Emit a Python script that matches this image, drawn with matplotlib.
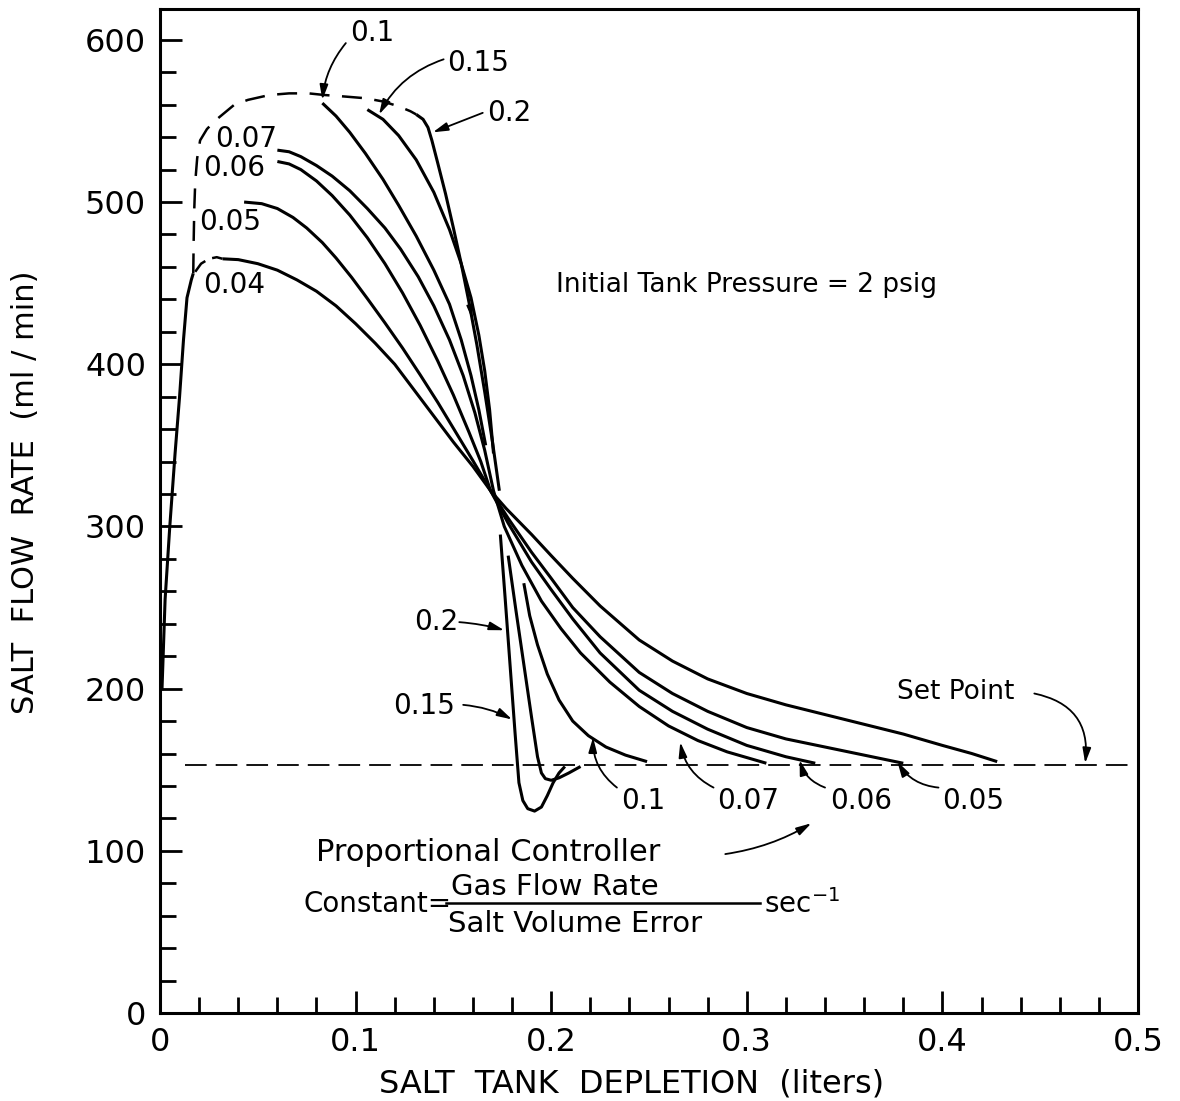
import matplotlib
matplotlib.use("Agg")
import matplotlib.pyplot as plt
from matplotlib.ticker import MultipleLocator

plt.rcParams['font.family'] = ['DejaVu Sans']
plt.rcParams['mathtext.fontset'] = 'dejavusans'

# ---- data (x = liters, y = ml/min) ----
# common start-up rise (solid) and envelope of starting points (dashed)
rise_x = [0.001, 0.0026, 0.005, 0.0077, 0.010, 0.012, 0.0138, 0.016, 0.017]
rise_y = [199, 255, 300, 345, 380, 415, 441, 452, 456]

env_x = [0.017, 0.0172, 0.0175, 0.018, 0.019, 0.0205, 0.024, 0.028, 0.033, 0.038,
         0.045, 0.056, 0.066, 0.076, 0.084, 0.095, 0.105, 0.114, 0.122, 0.128, 0.131]
env_y = [456, 475, 495, 512, 527, 538, 545, 550, 555, 560,
         563, 566, 567, 567, 566, 565, 564, 562, 559, 556, 554]

link04_x = [0.018, 0.021, 0.025, 0.029, 0.032]
link04_y = [457, 462, 465, 466, 465]

# continuous curves (constants 0.04 - 0.07)
c004_x = [0.032, 0.040, 0.050, 0.060, 0.070, 0.080, 0.090, 0.100, 0.110, 0.120, 0.130,
          0.140, 0.150, 0.160, 0.169, 0.177, 0.190, 0.200, 0.211, 0.225, 0.245, 0.262,
          0.280, 0.300, 0.320, 0.340, 0.360, 0.380, 0.400, 0.415, 0.428]
c004_y = [465, 464.5, 462, 458, 452, 445, 436, 425, 413, 400, 384,
          368, 352, 337, 322, 311, 295, 282, 268, 251, 230, 217,
          206, 197, 190, 184, 178, 172, 165, 160, 155]

c005_x = [0.043, 0.052, 0.060, 0.068, 0.075, 0.083, 0.090, 0.098, 0.106, 0.115, 0.124,
          0.133, 0.142, 0.151, 0.160, 0.169, 0.178, 0.190, 0.200, 0.211, 0.225, 0.245,
          0.262, 0.280, 0.300, 0.320, 0.340, 0.360, 0.380]
c005_y = [500, 499, 496, 490.5, 484, 475, 465.5, 453.5, 440.5, 425.5, 410,
          393.5, 376.5, 358.5, 340.5, 322, 305, 284, 268, 250, 232, 210,
          197, 186, 176, 169, 164, 159, 154]

c006_x = [0.060, 0.066, 0.072, 0.080, 0.088, 0.097, 0.106, 0.115, 0.124, 0.133, 0.142,
          0.150, 0.158, 0.164, 0.169, 0.178, 0.190, 0.200, 0.211, 0.225, 0.245, 0.262,
          0.280, 0.300, 0.320, 0.335]
c006_y = [525, 523.5, 520, 513, 504, 492, 478, 462, 444, 424, 402,
          381, 358, 340, 322, 302, 278, 261, 243, 222, 199, 186,
          175, 165, 158, 154]

c007_x = [0.060, 0.066, 0.072, 0.080, 0.088, 0.097, 0.106, 0.115, 0.123, 0.132, 0.140,
          0.148, 0.155, 0.161, 0.166, 0.1705, 0.176, 0.185, 0.195, 0.205, 0.215, 0.230,
          0.245, 0.260, 0.275, 0.290, 0.310]
c007_y = [532, 531, 528, 522.5, 516, 507, 496, 484, 471, 454, 436,
          415, 393, 370, 347, 322, 300, 276, 254, 237, 222, 204,
          189, 177, 168, 161, 154]

# curves with a jump (constants 0.1 - 0.2): upper and lower branches
c01_up_x = [0.083, 0.090, 0.097, 0.105, 0.114, 0.122, 0.131, 0.140, 0.148, 0.154, 0.159, 0.163, 0.1665]
c01_up_y = [561, 553, 543, 530, 514, 498, 479, 458, 437, 415, 393, 372, 350]
c01_lo_x = [0.186, 0.189, 0.193, 0.198, 0.204, 0.211, 0.219, 0.228, 0.238, 0.249]
c01_lo_y = [265, 245, 227, 209, 193, 180, 171, 164, 159, 155]

c015_up_x = [0.106, 0.114, 0.122, 0.131, 0.140, 0.148, 0.154, 0.159, 0.163, 0.166, 0.1685, 0.1705]
c015_up_y = [557, 551, 541, 526, 506, 483, 462, 441, 418, 396, 372, 345]
c015_lo_x = [0.178, 0.182, 0.186, 0.190, 0.193, 0.195, 0.197, 0.200, 0.204, 0.209, 0.215]
c015_lo_y = [282, 248, 215, 182, 158, 148, 144.5, 143.5, 145, 148, 152]

c02_up_x = [0.131, 0.1345, 0.137, 0.139, 0.142, 0.146, 0.150, 0.154, 0.158, 0.162, 0.166, 0.170, 0.1735]
c02_up_y = [554, 551, 546, 538, 524, 505, 484, 462, 438, 412, 383, 352, 322]
c02_lo_x = [0.174, 0.1765, 0.179, 0.1815, 0.1835, 0.1855, 0.188, 0.1915, 0.195, 0.198, 0.201, 0.204, 0.207]
c02_lo_y = [295, 255, 214, 173, 142, 131, 126, 124.5, 127, 134, 142, 148, 152]

setpoint_x = [0.013, 0.497]
setpoint_y = [153, 153]

x_ticks = [0, 0.1, 0.2, 0.3, 0.4, 0.5]
x_labels = ['0', '0.1', '0.2', '0.3', '0.4', '0.5']
y_ticks = [0, 100, 200, 300, 400, 500, 600]
y_labels = ['0', '100', '200', '300', '400', '500', '600']

# ---- figure ----
fig = plt.figure(figsize=(11.8, 11.01), dpi=100)
ax = fig.add_axes([0.1356, 0.0799, 0.8288, 0.9119])

lw = 2.2
solid = dict(color='black', lw=lw, solid_capstyle='butt', solid_joinstyle='round')
ax.plot(rise_x, rise_y, **solid)
for xs, ys in [(c004_x, c004_y), (c005_x, c005_y), (c006_x, c006_y), (c007_x, c007_y),
               (c01_up_x, c01_up_y), (c01_lo_x, c01_lo_y),
               (c015_up_x, c015_up_y), (c015_lo_x, c015_lo_y),
               (c02_up_x, c02_up_y), (c02_lo_x, c02_lo_y)]:
    ax.plot(xs, ys, **solid)

ax.plot(env_x, env_y, color='black', lw=1.8, dashes=(8, 5))
ax.plot(link04_x, link04_y, color='black', lw=1.8, dashes=(6, 3))
ax.plot(setpoint_x, setpoint_y, color='black', lw=1.3, dashes=(12, 5))

ax.set_xlim(0, 0.5)
ax.set_ylim(0, 619)
ax.set_xticks(x_ticks)
ax.set_xticklabels(x_labels)
ax.set_yticks(y_ticks)
ax.set_yticklabels(y_labels)
ax.xaxis.set_minor_locator(MultipleLocator(0.02))
ax.yaxis.set_minor_locator(MultipleLocator(20))
ax.tick_params(which='both', direction='in', width=2, labelsize=23, colors='black')
ax.tick_params(which='major', length=16, pad=10)
ax.tick_params(which='minor', length=11.5)
ax.tick_params(axis='x', pad=10)
for sp in ax.spines.values():
    sp.set_linewidth(2.2)

ax.set_xlabel('SALT  TANK  DEPLETION  (liters)', fontsize=23)
ax.set_ylabel('SALT  FLOW  RATE  (ml / min)', fontsize=22)
ax.xaxis.set_label_coords(0.482, -0.071)
ax.xaxis.label.set_va('center')
ax.yaxis.set_label_coords(-0.138, 0.519)
ax.yaxis.label.set_va('center')

# ---- labels on the curves ----
fs = 20
arr = dict(arrowstyle='-|>,head_length=0.9,head_width=0.25', color='black', lw=1.3,
           shrinkA=0, shrinkB=0)

def label(txt, x, y, tip=None, start=None, rad=0.0, **kw):
    ax.text(x, y, txt, fontsize=kw.pop('size', fs), ha='left', va='center', **kw)
    if tip is not None:
        p = dict(arr)
        p['connectionstyle'] = 'arc3,rad=%s' % rad
        ax.annotate('', xy=tip, xytext=start, arrowprops=p)

label('0.1', 0.097, 604, tip=(0.083, 563), start=(0.095, 598), rad=0.15)
label('0.15', 0.147, 586, tip=(0.112, 554), start=(0.145, 588), rad=0.2)
label('0.2', 0.167, 555, tip=(0.1395, 543), start=(0.165, 555))
label('0.07', 0.028, 539)
label('0.06', 0.022, 521)
label('0.05', 0.020, 488)
label('0.04', 0.022, 449)
label('Initial Tank Pressure = 2 psig', 0.2025, 449, size=19)

label('0.2', 0.130, 241, tip=(0.176, 236), start=(0.153, 241), rad=-0.05)
label('0.15', 0.119, 189, tip=(0.180, 181), start=(0.155, 190), rad=-0.1)
label('0.1', 0.236, 131, tip=(0.2214, 170), start=(0.2336, 139), rad=-0.25)
label('0.07', 0.2848, 131, tip=(0.266, 167), start=(0.283, 139), rad=-0.25)
label('0.06', 0.3425, 131, tip=(0.327, 156), start=(0.340, 139), rad=-0.25)
label('0.05', 0.400, 131, tip=(0.377, 155), start=(0.398, 139), rad=-0.25)
label('Set Point', 0.377, 198, tip=(0.473, 154), start=(0.447, 197), rad=-0.45, size=19)

label('Proportional Controller', 0.080, 99, tip=(0.333, 117), start=(0.289, 98),
      rad=0.1, size=22)
ax.text(0.0735, 67, 'Constant=', fontsize=20, ha='left', va='center')
ax.text(0.149, 78, 'Gas Flow Rate', fontsize=21, ha='left', va='center')
ax.text(0.147, 55, 'Salt Volume Error', fontsize=21, ha='left', va='center')
ax.plot([0.146, 0.3065], [68, 68], color='black', lw=1.8)
ax.text(0.309, 67, r'sec$^{-1}$', fontsize=20, ha='left', va='center')

# direction arrow on the 0.2 curve
ax.annotate('', xy=(0.1595, 428), xytext=(0.1575, 443),
            arrowprops=dict(arrowstyle='-|>,head_length=0.8,head_width=0.2',
                            color='black', lw=1, shrinkA=0, shrinkB=0))

fig.savefig('out.png', dpi=100)
